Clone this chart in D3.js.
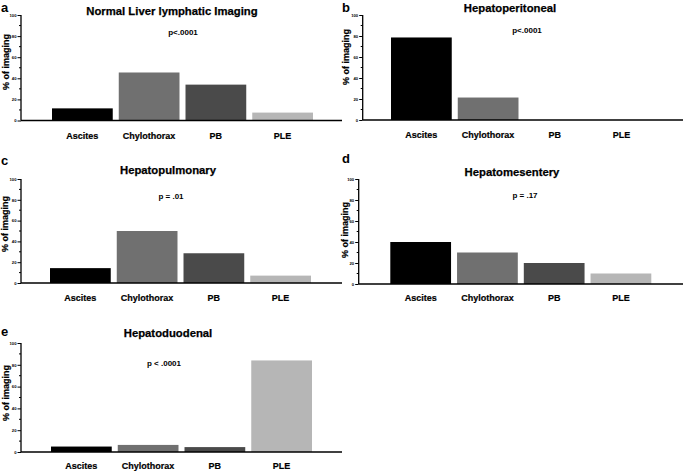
<!DOCTYPE html>
<html><head><meta charset="utf-8">
<script src="https://cdn.jsdelivr.net/npm/d3@7"></script>
<style>
html,body{margin:0;padding:0;background:#fff;}
svg{display:block;font-family:"Liberation Sans",Arial,Helvetica,sans-serif;font-weight:bold;}
</style></head><body>
<svg id="chart" width="684" height="471"></svg>
<script>
// ---- data ----
const categories = ["Ascites", "Chylothorax", "PB", "PLE"];
const panelLetters = ["a", "b", "c", "d", "e"];
const panelTitles = ["Normal Liver lymphatic Imaging", "Hepatoperitoneal", "Hepatopulmonary", "Hepatomesentery", "Hepatoduodenal"];
const pValues = ["p<.0001", "p<.0001", "p = .01", "p = .17", "p < .0001"];
const normalLiver = [11.5, 45.5, 34, 7.5];
const hepatoperitoneal = [78.6, 21.4, 0, 0];
const hepatopulmonary = [14.3, 50, 28.6, 7.1];
const hepatomesentery = [40, 30, 20, 10];
const hepatoduodenal = [5, 6.5, 4.5, 84];
const yTicks = [0, 20, 40, 60, 80, 100];
const yMinorTicks = [10, 30, 50, 70, 90];
const yLabel = "% of imaging";
const barColors = ["#000000", "#707070", "#4a4a4a", "#b6b6b6"];

const series = [normalLiver, hepatoperitoneal, hepatopulmonary, hepatomesentery, hepatoduodenal];

// ---- layout (positions only) ----
const layout = [
  {ax: 21,    y100: 15,  y0: 120.5, xEnd: 342, band: [49, 316],   letter: [1, 12],    title: [172, 14.5], p: [183, 35],   ylab: [8.5, 62],   xlab: 138.5},
  {ax: 362.7, y100: 15,  y0: 120,   xEnd: 683, band: [388, 655],  letter: [342, 12],  title: [510, 12],   p: [527, 32.5], ylab: [348.5, 57], xlab: 138},
  {ax: 21,    y100: 179, y0: 283,   xEnd: 342, band: [47, 314],   letter: [1, 165],   title: [168, 174],  p: [171, 199],  ylab: [8, 224],    xlab: 301},
  {ax: 358.7, y100: 179, y0: 284,   xEnd: 683, band: [387.3, 654.3], letter: [342, 163], title: [512, 176], p: [525, 198], ylab: [347.5, 230], xlab: 301},
  {ax: 21,    y100: 343, y0: 452,   xEnd: 342, band: [48, 315],   letter: [1, 336],   title: [168, 337],  p: [164, 366],  ylab: [8.5, 393],  xlab: 469}
];

const svg = d3.select("#chart");

series.forEach((vals, i) => {
  const L = layout[i];
  const g = svg.append("g");
  const x = d3.scaleBand().domain(categories).range(L.band).paddingInner(0.09).paddingOuter(0.045);
  const y = d3.scaleLinear().domain([0, 100]).range([L.y0, L.y100]);

  // bars
  g.selectAll("rect.bar").data(vals).join("rect")
    .attr("class", "bar")
    .attr("x", (d, j) => x(categories[j]))
    .attr("width", x.bandwidth())
    .attr("y", d => y(d))
    .attr("height", d => L.y0 - y(d))
    .attr("fill", (d, j) => barColors[j]);

  // y axis
  const yAxis = d3.axisLeft(y).tickValues(yTicks).tickSize(3.5).tickPadding(1).tickFormat(d3.format("d"));
  const ya = g.append("g").attr("transform", `translate(${L.ax},0)`).call(yAxis);
  ya.select(".domain").attr("stroke", "#000").attr("stroke-width", 1.3).attr("d", `M0,${L.y100}V${L.y0}`);
  ya.selectAll(".tick line").attr("stroke", "#000").attr("stroke-width", 1);
  ya.selectAll(".tick text").attr("font-size", 4.2).attr("font-family", "Liberation Sans, Arial, sans-serif").attr("font-weight", "bold").attr("fill", "#000");
  // minor ticks
  ya.selectAll("line.minor").data(yMinorTicks).join("line").attr("class", "minor")
    .attr("x1", -2).attr("x2", 0).attr("y1", d => y(d)).attr("y2", d => y(d))
    .attr("stroke", "#000").attr("stroke-width", 1);

  // x axis baseline
  g.append("line").attr("x1", L.ax).attr("x2", L.xEnd).attr("y1", L.y0).attr("y2", L.y0)
    .attr("stroke", "#000").attr("stroke-width", 1.5);

  // x labels
  g.selectAll("text.xl").data(categories).join("text").attr("class", "xl")
    .attr("x", d => x(d) + x.bandwidth() / 2).attr("y", L.xlab)
    .attr("text-anchor", "middle").attr("font-size", 9).attr("fill", "#000")
    .attr("stroke", "#000").attr("stroke-width", 0.2).text(d => d);

  // y label
  g.append("text").attr("transform", `translate(${L.ylab[0]},${L.ylab[1]}) rotate(-90)`)
    .attr("text-anchor", "middle").attr("font-size", 9).attr("fill", "#000")
    .attr("stroke", "#000").attr("stroke-width", 0.2).text(yLabel);

  // title
  g.append("text").attr("x", L.title[0]).attr("y", L.title[1]).attr("text-anchor", "middle")
    .attr("font-size", 11.3).attr("fill", "#000")
    .attr("stroke", "#000").attr("stroke-width", 0.25).text(panelTitles[i]);

  // p value
  g.append("text").attr("x", L.p[0]).attr("y", L.p[1]).attr("text-anchor", "middle")
    .attr("font-size", 8).attr("fill", "#000").text(pValues[i]);

  // panel letter
  g.append("text").attr("x", L.letter[0]).attr("y", L.letter[1])
    .attr("font-size", 13).attr("fill", "#000").text(panelLetters[i]);
});
</script>
</body></html>
